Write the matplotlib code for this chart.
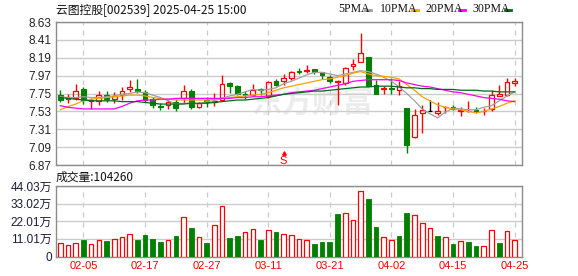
# K-line chart of 云图控股 with volume panel below

import numpy as np
import matplotlib
matplotlib.use('Agg')
import matplotlib.pyplot as plt
from matplotlib.lines import Line2D
import matplotlib.transforms as mtransforms

plt.rcParams['font.family'] = ['Liberation Sans', 'Noto Sans CJK SC']

# daily prices
opens = [7.73, 7.68, 7.70, 7.81, 7.66, 7.66, 7.73, 7.68, 7.73, 7.81,
         7.81, 7.77, 7.68, 7.60, 7.61, 7.65, 7.70, 7.78, 7.59, 7.67,
         7.64, 7.67, 7.88, 7.84, 7.74, 7.73, 7.80, 7.72, 7.91, 7.91,
         7.94, 8.03, 8.03, 8.05, 8.01, 7.95, 7.89, 7.88, 8.09, 8.14,
         8.20, 7.86, 7.81, 7.82, 7.79, 7.57, 7.21, 7.51, 7.54, 7.51,
         7.58, 7.59, 7.54, 7.53, 7.55, 7.53, 7.56, 7.72, 7.73, 7.88]
highs = [7.79, 7.75, 7.87, 7.83, 7.70, 7.78, 7.78, 7.77, 7.83, 7.92,
         7.93, 7.79, 7.71, 7.63, 7.67, 7.68, 7.86, 7.80, 7.64, 7.71,
         7.76, 7.98, 7.89, 7.86, 7.78, 7.87, 7.82, 7.91, 7.93, 7.99,
         8.03, 8.06, 8.10, 8.05, 8.02, 7.98, 7.92, 8.08, 8.17, 8.50,
         8.20, 7.92, 7.84, 7.94, 7.90, 7.57, 7.56, 7.61, 7.67, 7.64,
         7.60, 7.61, 7.59, 7.66, 7.59, 7.57, 7.79, 7.85, 7.94, 7.94]
lows = [7.65, 7.63, 7.67, 7.62, 7.56, 7.61, 7.65, 7.63, 7.67, 7.77,
        7.76, 7.65, 7.57, 7.55, 7.56, 7.53, 7.63, 7.56, 7.57, 7.58,
        7.60, 7.66, 7.76, 7.73, 7.68, 7.72, 7.73, 7.69, 7.84, 7.86,
        7.92, 7.99, 8.00, 7.99, 7.93, 7.88, 7.61, 7.85, 8.04, 8.14,
        7.84, 7.75, 7.75, 7.75, 7.73, 7.02, 7.20, 7.27, 7.53, 7.49,
        7.51, 7.55, 7.47, 7.52, 7.51, 7.49, 7.53, 7.72, 7.72, 7.84]
closes = [7.67, 7.71, 7.78, 7.67, 7.67, 7.73, 7.68, 7.72, 7.78, 7.83,
          7.78, 7.67, 7.61, 7.59, 7.65, 7.57, 7.78, 7.58, 7.63, 7.64,
          7.66, 7.87, 7.84, 7.75, 7.73, 7.79, 7.79, 7.89, 7.86, 7.94,
          8.02, 8.02, 8.04, 8.02, 7.98, 7.91, 7.91, 8.06, 8.11, 8.25,
          7.84, 7.75, 7.82, 7.81, 7.84, 7.12, 7.49, 7.55, 7.54, 7.54,
          7.59, 7.56, 7.55, 7.54, 7.54, 7.54, 7.73, 7.74, 7.89, 7.90]

# moving averages as drawn
ma5 = [7.71, 7.70, 7.70, 7.71, 7.70, 7.70, 7.71, 7.72, 7.74, 7.75,
       7.77, 7.76, 7.73, 7.70, 7.66, 7.62, 7.63, 7.63, 7.62, 7.65,
       7.66, 7.69, 7.72, 7.74, 7.77, 7.80, 7.79, 7.80, 7.82, 7.87,
       7.90, 7.94, 7.98, 8.01, 8.01, 7.99, 7.97, 7.99, 8.01, 8.03,
       8.02, 7.99, 7.95, 7.90, 7.83, 7.75, 7.66, 7.56, 7.50, 7.45,
       7.52, 7.57, 7.56, 7.55, 7.55, 7.58, 7.60, 7.66, 7.72, 7.77]
ma10 = [7.55, 7.59, 7.62, 7.66, 7.68, 7.69, 7.70, 7.71, 7.72, 7.73,
        7.73, 7.72, 7.70, 7.69, 7.68, 7.67, 7.67, 7.67, 7.67, 7.67,
        7.68, 7.69, 7.70, 7.71, 7.72, 7.73, 7.74, 7.76, 7.79, 7.82,
        7.84, 7.86, 7.88, 7.90, 7.92, 7.93, 7.95, 7.97, 8.00, 8.02,
        7.99, 7.97, 7.96, 7.95, 7.93, 7.86, 7.79, 7.71, 7.66, 7.61,
        7.58, 7.56, 7.55, 7.53, 7.51, 7.53, 7.56, 7.59, 7.63, 7.66]
ma20 = [7.60, 7.58, 7.57, 7.56, 7.56, 7.56, 7.56, 7.56, 7.59, 7.63,
        7.66, 7.67, 7.67, 7.68, 7.68, 7.69, 7.69, 7.69, 7.69, 7.69,
        7.69, 7.69, 7.69, 7.70, 7.70, 7.71, 7.71, 7.72, 7.73, 7.74,
        7.76, 7.77, 7.78, 7.79, 7.81, 7.83, 7.85, 7.87, 7.90, 7.91,
        7.92, 7.92, 7.92, 7.92, 7.91, 7.88, 7.86, 7.84, 7.83, 7.81,
        7.79, 7.77, 7.76, 7.74, 7.72, 7.70, 7.69, 7.68, 7.66, 7.65]
ma30 = [7.70, 7.69, 7.68, 7.67, 7.66, 7.66, 7.66, 7.66, 7.65, 7.65,
        7.65, 7.64, 7.63, 7.62, 7.62, 7.62, 7.62, 7.63, 7.63, 7.63,
        7.64, 7.65, 7.66, 7.67, 7.67, 7.68, 7.69, 7.70, 7.72, 7.74,
        7.75, 7.76, 7.77, 7.78, 7.78, 7.79, 7.80, 7.81, 7.82, 7.83,
        7.83, 7.84, 7.84, 7.84, 7.83, 7.82, 7.82, 7.81, 7.81, 7.80,
        7.80, 7.80, 7.79, 7.79, 7.79, 7.78, 7.78, 7.77, 7.77, 7.77]

# volume in 万 shares, and the colour of each volume bar
volume = [8.5, 7.2, 8.5, 10.6, 7.8, 10.4, 9.9, 11.0, 12.2, 14.1,
          10.6, 13.7, 11.0, 9.3, 10.4, 13.1, 24.8, 18.1, 12.2, 8.7,
          19.8, 31.8, 11.8, 13.1, 15.4, 17.3, 10.6, 16.7, 15.0, 14.1,
          13.5, 11.0, 10.4, 8.1, 9.3, 9.3, 26.5, 26.9, 22.9, 41.2,
          35.7, 18.7, 12.2, 10.6, 12.5, 26.9, 26.1, 21.1, 17.9, 12.5,
          12.2, 8.1, 9.7, 9.3, 6.8, 6.6, 16.7, 8.7, 16.0, 10.4]
vol_side = 'rrrgrrgrrrggggrgrgrgrrggrrgrgrrrrggggrrrggrrggrrrgrgrggrrgrr'

date_pos = [3, 11, 19, 27, 35, 43, 51, 59]
date_labels = ['02-05', '02-17', '02-27', '03-11', '03-21', '04-02', '04-15', '04-25']
price_ticks = [6.87, 7.09, 7.31, 7.53, 7.75, 7.97, 8.19, 8.41, 8.63]
vol_ticks = [0, 11.01, 22.01, 33.02, 44.03]
vol_labels = ['0', '11.01万', '22.01万', '33.02万', '44.03万']

RED = '#ff0000'
GREEN = '#008000'
W, H = 578, 276

fig = plt.figure(figsize=(W / 100, H / 100), dpi=100)
ax = fig.add_axes([56 / W, 1 - 165 / H, 466 / W, 143 / H])
axv = fig.add_axes([56 / W, 1 - 256.5 / H, 466 / W, 70.5 / H])

x = np.arange(len(closes))
o = np.array(opens)
c = np.array(closes)
hi = np.array(highs)
lo = np.array(lows)
top = np.maximum(o, c)
bot = np.minimum(o, c)
cols = np.where(c > o, RED, np.where(c < o, GREEN, '#000000'))

# watermark
ax.text(0.55, 0.44, '东方财富', transform=ax.transAxes, fontsize=22, fontweight='bold',
        color='#ececec', ha='center', va='center', family='Noto Sans CJK SC', zorder=0)

# wicks above and below the bodies
ax.vlines(x, top, hi, colors=cols, linewidth=1.0, zorder=3)
ax.vlines(x, lo, bot, colors=cols, linewidth=1.0, zorder=3)
for i in x:
    h = top[i] - bot[i]
    if cols[i] == GREEN:
        ax.bar(i, max(h, 0.004), bottom=bot[i], width=0.62, color=GREEN,
               edgecolor=GREEN, linewidth=0.8, zorder=4)
    else:
        ax.bar(i, h, bottom=bot[i], width=0.62, facecolor='none',
               edgecolor=cols[i], linewidth=0.9, zorder=4)

ax.plot(x, ma5, color='#a0a0a0', lw=0.9, zorder=5)
ax.plot(x, ma10, color='#f5a300', lw=0.9, zorder=5)
ax.plot(x, ma20, color='#ff00ff', lw=0.9, zorder=5)
ax.plot(x, ma30, color='#006a1a', lw=0.9, zorder=5)

# S marker near the bottom of the price panel
trans = mtransforms.blended_transform_factory(ax.transData, ax.transAxes)
ax.text(29, 0.03, 'S', transform=trans, color=RED, fontsize=8, ha='center', va='center')
ax.plot([29], [0.085], transform=trans, marker='^', color=RED, markersize=2.5)

ax.set_xlim(-0.56, 59.96)
ax.set_ylim(6.87, 8.63)
ax.set_yticks(price_ticks)
ax.set_yticklabels(['%.2f' % v for v in price_ticks], fontsize=8.5, color='#222222')
ax.set_xticks(date_pos)
ax.set_xticklabels([])

# volume bars
for i in x:
    if vol_side[i] == 'g':
        axv.bar(i, volume[i], width=0.6, color=GREEN, edgecolor=GREEN, linewidth=0.6, zorder=3)
    else:
        axv.bar(i, volume[i], width=0.6, facecolor='white', edgecolor=RED, linewidth=0.9, zorder=3)

axv.set_xlim(-0.56, 59.96)
axv.set_ylim(0, 44.03)
axv.set_yticks(vol_ticks)
axv.set_yticklabels(vol_labels, fontsize=8.5, color='#1c1c3a')
axv.set_xticks(date_pos)
axv.set_xticklabels(date_labels, fontsize=8, color=RED)

for a in (ax, axv):
    a.tick_params(length=0, pad=3)
    a.grid(axis='y', color='#cccccc', linewidth=1.0, zorder=0)
    a.grid(axis='x', color='#cccccc', linewidth=0.9, linestyle=(0, (4, 4)), zorder=0)
    a.set_axisbelow(True)
    for s in a.spines.values():
        s.set_color('#8c8c8c')
        s.set_linewidth(1.0)

fig.text(56 / W, 1 - 9.5 / H, '云图控股[002539] 2025-04-25 15:00', fontsize=8.5,
         family='Noto Sans CJK SC', va='center', color='#111111')
fig.text(56 / W, 1 - 177 / H, '成交量:104260', fontsize=8.5,
         family=['Noto Sans CJK SC'], va='center', color='#111111')

# legend along the top right
legend = [('5PMA', 338, 365, '#a0a0a0'), ('10PMA', 380, 412, '#f5a300'),
          ('20PMA', 426, 459, '#ff00ff'), ('30PMA', 472, 505, '#006a1a')]
for name, tx, lx, col in legend:
    fig.text(tx / W, 1 - 9.5 / H, name, fontsize=8.5, family='Liberation Serif',
             va='center', color='#111111')
    fig.add_artist(Line2D([lx / W, (lx + 6) / W], [1 - 9.5 / H, 1 - 9.5 / H],
                          color=col, linewidth=2.0, transform=fig.transFigure))

fig.savefig('out.png', dpi=100)
